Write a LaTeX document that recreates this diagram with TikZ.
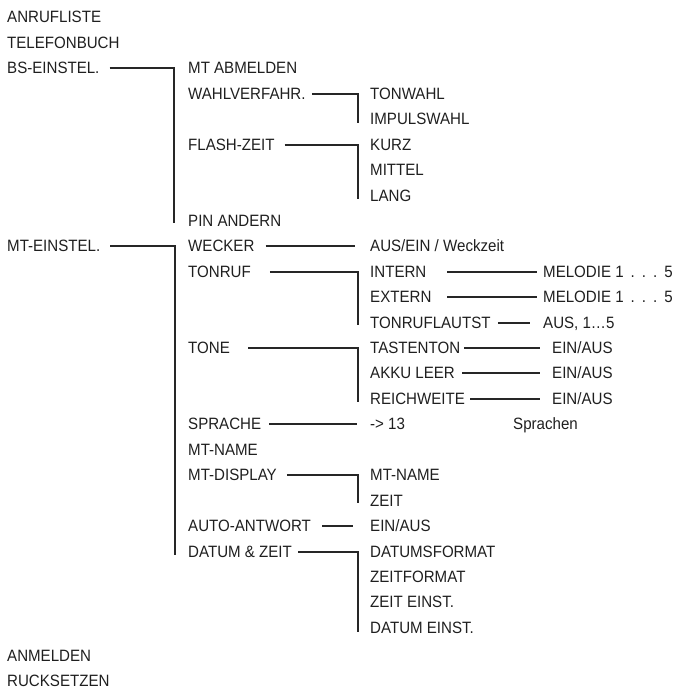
\documentclass[tikz,border=0pt]{standalone}
\usepackage{fontspec}
\setmainfont{Liberation Sans}[FakeStretch=0.92]
\usetikzlibrary{calc}
\newcommand{\melsp}{\hspace{7pt}}
\tikzset{
  lbl/.style={anchor=west, inner sep=0pt, text height=11.8pt, text depth=0pt,
    font=\fontsize{16.4}{19}\selectfont, text=black!88},
  conn/.style={line width=1.2pt, draw=black!85}
}
\begin{document}
\begin{tikzpicture}[x=1pt,y=-1pt]
\useasboundingbox (0,0) rectangle (679,689);
% column 0
\node[lbl] (anruf) at (7,17) {ANRUFLISTE};
\node[lbl] (tel) at (7,43) {TELEFONBUCH};
\node[lbl] (bs) at (7,68) {BS-EINSTEL.};
\node[lbl] (mte) at (7,246) {MT-EINSTEL.};
\node[lbl] (anm) at (7,656) {ANMELDEN};
\node[lbl] (rueck) at (7,681) {RUCKSETZEN};
% BS-EINSTEL. children
\node[lbl] (mtab) at (188,68) {MT ABMELDEN};
\node[lbl] (wahl) at (188,94) {WAHLVERFAHR.};
\node[lbl] (tonw) at (370,94) {TONWAHL};
\node[lbl] (imp) at (370,119) {IMPULSWAHL};
\node[lbl] (flash) at (188,145) {FLASH-ZEIT};
\node[lbl] (kurz) at (370,145) {KURZ};
\node[lbl] (mittel) at (370,170) {MITTEL};
\node[lbl] (lang) at (370,196) {LANG};
\node[lbl] (pin) at (188,221) {PIN ANDERN};
% MT-EINSTEL. children
\node[lbl] (weck) at (188,246) {WECKER};
\node[lbl] (ausein) at (370,246) {AUS/EIN / Weckzeit};
\node[lbl] (tonruf) at (188,272) {TONRUF};
\node[lbl] (intern) at (370,272) {INTERN};
\node[lbl] (mel1) at (543,272) {MELODIE 1\melsp.\melsp.\melsp.\melsp5};
\node[lbl] (extern) at (370,297) {EXTERN};
\node[lbl] (mel2) at (543,297) {MELODIE 1\melsp.\melsp.\melsp.\melsp5};
\node[lbl] (trl) at (370,323) {TONRUFLAUTST};
\node[lbl] (aus15) at (543,323) {AUS, 1…5};
\node[lbl] (tone) at (188,348) {TONE};
\node[lbl] (tast) at (370,348) {TASTENTON};
\node[lbl] (ea1) at (552,348) {EIN/AUS};
\node[lbl] (akku) at (370,373) {AKKU LEER};
\node[lbl] (ea2) at (552,373) {EIN/AUS};
\node[lbl] (reich) at (370,399) {REICHWEITE};
\node[lbl] (ea3) at (552,399) {EIN/AUS};
\node[lbl] (spr) at (188,424) {SPRACHE};
\node[lbl] (to13) at (370,424) {-> 13};
\node[lbl] (sprachen) at (513,424) {Sprachen};
\node[lbl] (mtname) at (188,450) {MT-NAME};
\node[lbl] (mtdisp) at (188,475) {MT-DISPLAY};
\node[lbl] (mtname2) at (370,475) {MT-NAME};
\node[lbl] (zeit) at (370,501) {ZEIT};
\node[lbl] (auto) at (188,526) {AUTO-ANTWORT};
\node[lbl] (ea4) at (370,526) {EIN/AUS};
\node[lbl] (datum) at (188,552) {DATUM \& ZEIT};
\node[lbl] (dfmt) at (370,552) {DATUMSFORMAT};
\node[lbl] (zfmt) at (370,577) {ZEITFORMAT};
\node[lbl] (zein) at (370,602) {ZEIT EINST.};
\node[lbl] (dein) at (370,628) {DATUM EINST.};
% bracket corners
\coordinate (k1) at (174,68);
\coordinate (k2) at (358,94);
\coordinate (k3) at (358,145);
\coordinate (k4) at (175,246);
\coordinate (k5) at (358,272);
\coordinate (k6) at (358,348);
\coordinate (k7) at (358,475);
\coordinate (k8) at (358,552);
% connectors
\draw[conn] ([xshift=10pt]bs.east) -- (k1) -- ($(k1 |- pin.west)+(0,2)$);
\draw[conn] ([xshift=6pt]wahl.east) -- (k2) -- ($(k2 |- imp.west)+(0,4)$);
\draw[conn] ([xshift=10pt]flash.east) -- (k3) -- ($(k3 |- lang.west)+(0,3)$);
\draw[conn] ([xshift=10pt]mte.east) -- (k4) -- ($(k4 |- datum.west)+(0,3)$);
\draw[conn] ([xshift=11pt]weck.east) -- ([xshift=-15pt]ausein.west);
\draw[conn] ([xshift=19pt]tonruf.east) -- (k5) -- ($(k5 |- trl.west)+(0,2)$);
\draw[conn] ($(mel1.west)+(-96,0)$) -- ([xshift=-6pt]mel1.west);
\draw[conn] ($(mel2.west)+(-96,0)$) -- ([xshift=-6pt]mel2.west);
\draw[conn] ([xshift=7pt]trl.east) -- ([xshift=-13pt]aus15.west);
\draw[conn] ([xshift=18pt]tone.east) -- (k6) -- ($(k6 |- reich.west)+(0,3)$);
\draw[conn] ([xshift=4pt]tast.east) -- ([xshift=-12pt]ea1.west);
\draw[conn] ([xshift=7pt]akku.east) -- ([xshift=-12pt]ea2.west);
\draw[conn] ([xshift=5pt]reich.east) -- ([xshift=-12pt]ea3.west);
\draw[conn] ([xshift=8pt]spr.east) -- ([xshift=-13pt]to13.west);
\draw[conn] ([xshift=10pt]mtdisp.east) -- (k7) -- ($(k7 |- zeit.west)+(0,2)$);
\draw[conn] ([xshift=11pt]auto.east) -- ([xshift=-17pt]ea4.west);
\draw[conn] ([xshift=6pt]datum.east) -- (k8) -- ($(k8 |- dein.west)+(0,4)$);
\end{tikzpicture}
\end{document}
